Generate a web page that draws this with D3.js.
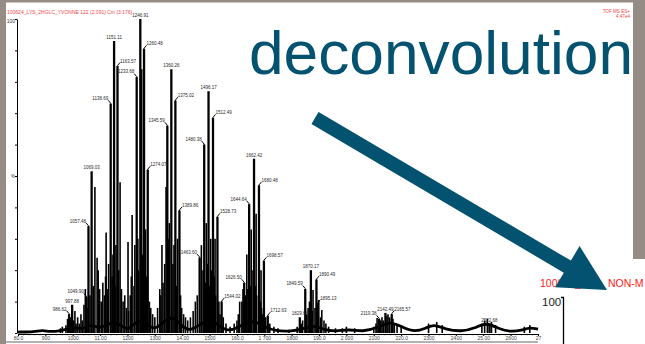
<!DOCTYPE html>
<html>
<head>
<meta charset="utf-8">
<script src="https://cdn.jsdelivr.net/npm/d3@7"></script>
<style>
  html, body { margin: 0; padding: 0; background: #fff; overflow: hidden; }
  svg { display: block; }
</style>
</head>
<body>
<svg id="chart" width="645" height="344"></svg>
<script>
// ---- axis ticks ----
const xTickValues = [800, 900, 1000, 1100, 1200, 1300, 1400, 1500, 1600, 1700, 1800, 1900, 2000, 2100, 2200, 2300, 2400, 2500, 2600, 2700];
const xTickLabels = ["80.0", "900", "1000", "11.00", "1200", "1300", "14.00", "1500", "160.0", "1 700", "1800", "190.0", "2 000", "2100", "220.0", "2300", "2400", "25.00", "2600", "27"];
const yTickValues = [0, 10, 20, 30, 40, 50, 60, 70, 80, 90, 100];

// ---- labelled peaks: m/z, relative intensity (%) and which side the label sits on ----
const peakMz = [986.62, 997.88, 1049.90, 1057.48, 1069.03, 1138.69, 1151.11, 1163.57, 1233.68, 1246.91, 1260.48, 1274.07,
  1345.59, 1360.26, 1375.02, 1389.86, 1463.60, 1480.38, 1496.17, 1512.49, 1528.73, 1544.02, 1626.50, 1644.64, 1662.42,
  1680.48, 1698.57, 1712.63, 1829.68, 1849.59, 1870.17, 1890.49, 1895.13, 2119.38, 2142.49, 2165.57, 2522.68];
const peakIntensity = [6, 9, 11.5, 34, 51.5, 73, 93, 85, 81.5, 100, 90.5, 52,
  66, 84, 74, 39, 24, 60, 77, 68.5, 37, 10, 16, 41, 55.5,
  47, 23, 5.5, 5, 14, 20, 17, 9.5, 4.5, 6.4, 6, 3];
const peakLabelSide = ["l", "c", "l", "l", "c", "l", "c", "r", "l", "c", "r", "r",
  "l", "c", "r", "r", "l", "l", "c", "r", "r", "r", "l", "l", "c",
  "r", "r", "r", "c", "l", "c", "r", "r", "l", "c", "r", "c"];

// ---- unlabelled peaks ----
const minorMz = [1081, 1089, 1122, 1173, 1202, 1217, 1252, 1266, 1326, 1341, 1353, 1383, 1470, 1488, 1504, 1520,
  1610, 1636, 1652, 1670, 1688, 1878, 1899, 1910,
  955, 962, 975, 981, 990, 993, 1003, 1008, 1012, 1018, 1024, 1030, 1035, 1041, 1046, 1052, 1063, 1075,
  1093, 1098, 1104, 1110, 1116, 1120, 1128, 1131, 1144, 1147, 1156, 1158, 1168, 1178, 1184, 1190, 1196,
  1204, 1210, 1214, 1224, 1227, 1238, 1241, 1256, 1270, 1280, 1285, 1292, 1300, 1310, 1318, 1322, 1330,
  1336, 1350, 1366, 1370, 1380, 1394, 1398, 1405, 1412, 1420, 1430, 1440, 1448, 1455, 1476, 1484, 1492,
  1500, 1506, 1517, 1522, 1534, 1538, 1550, 1560, 1575, 1590, 1600, 1605, 1618, 1622, 1632, 1640,
  1650, 1655, 1668, 1672, 1686, 1690, 1694, 1705, 1720, 1735, 1750, 1790, 1820, 1835, 1840, 1855, 1860,
  1865, 1875, 1885, 1905, 1918, 1925, 1935, 1960, 1985, 2000, 2030, 2100, 2108, 2112, 2125, 2130, 2135,
  2148, 2152, 2158, 2170, 2175, 2185, 2200, 2300, 2330, 2350, 2495, 2505, 2515, 2530, 2545, 2650, 2670];
const minorIntensity = [46.5, 24, 32, 48, 29, 37.6, 84, 33, 28, 46.5, 35, 30, 28, 35, 30, 30,
  10, 25, 33, 38, 20, 13.7, 10.5, 7.3,
  1.5, 2, 2.5, 4.5, 3, 5, 4, 7, 3, 5, 3, 6, 4, 9, 14, 8, 12, 15,
  20, 14, 10, 16, 12, 18, 14, 22, 18, 25, 15, 28, 20, 14, 10, 12, 8,
  7, 12, 18, 15, 28, 30, 20, 25, 18, 10, 8, 6, 5, 8, 14, 12, 16,
  22, 30, 22, 28, 15, 12, 8, 6, 5, 4, 5, 7, 10, 12, 20, 16, 22,
  15, 20, 18, 12, 10, 6, 5, 3, 2, 3, 4, 6, 10, 14, 12, 14,
  15, 20, 15, 12, 10, 8, 6, 5, 3, 2, 1.5, 1, 2, 3, 4, 6, 8,
  10, 7, 8, 5, 4, 3, 2, 1.5, 1.5, 2, 1.5, 2, 3, 4.8, 4, 5, 4,
  5.5, 6, 5, 4.5, 3, 2.5, 2, 3, 3.5, 2.5, 3, 4, 4.5, 3.5, 2.5, 2, 2.5];

// ---- baseline envelope under the peak clusters ----
const baseMz = [800, 860, 890, 915, 950, 980, 1010, 1035, 1065, 1095, 1125, 1155, 1195, 1210, 1246, 1293, 1320, 1362,
  1400, 1428, 1460, 1500, 1540, 1565, 1600, 1655, 1700, 1740, 1800, 1850, 1880, 1920, 1960, 2010, 2060, 2110,
  2160, 2210, 2250, 2290, 2320, 2360, 2420, 2470, 2510, 2560, 2600, 2640, 2670, 2700];
const baseIntensity = [0.3, 0.4, 0.9, 0.4, 0.6, 1.2, 1.8, 1.2, 2.8, 1.5, 2.5, 4.0, 1.0, 1.5, 5.0, 0.8, 2.5, 6.0,
  2.0, 0.6, 2.5, 4.5, 2.0, 0.6, 1.5, 4.5, 2.0, 0.6, 0.5, 1.5, 2.5, 1.0, 0.5, 1.2, 0.4, 1.5,
  4.0, 1.5, 0.4, 1.5, 2.8, 1.2, 0.4, 1.5, 3.5, 1.2, 0.4, 0.8, 1.8, 1.2];

const svg = d3.select("#chart");
const teal = "#03526f";
const frameGrey = "#958c86";
const headRed = "#f04848";
const font = "Liberation Sans, Arial, sans-serif";
const fmt = d3.format(".2f");

const x = d3.scaleLinear().domain([800, 2700]).range([18, 538]);
const y = d3.scaleLinear().domain([0, 100]).range([333, 19]);

svg.append("rect").attr("x", 0).attr("y", 0).attr("width", 645).attr("height", 344).attr("fill", "#fff");

// spectrum header
svg.append("text").attr("x", 7).attr("y", 14)
  .attr("font-family", font).attr("font-size", 5).attr("fill", headRed)
  .text("100624_LYS_2HGLC_YVONNE 122 (2.091) Cm (3:176)");
svg.append("text").attr("x", 630).attr("y", 12.8).attr("text-anchor", "end")
  .attr("font-family", font).attr("font-size", 4.6).attr("fill", headRed)
  .text("TOF MS ES+");
svg.append("text").attr("x", 630).attr("y", 18).attr("text-anchor", "end")
  .attr("font-family", font).attr("font-size", 4.6).attr("fill", headRed)
  .text("4.47e4");

// baseline envelope
const baseData = baseMz.map((m, i) => ({ m, v: baseIntensity[i] }));
svg.append("path").datum(baseData)
  .attr("d", d3.line().x(d => x(d.m)).y(d => y(d.v)).curve(d3.curveBasis))
  .attr("fill", "none").attr("stroke", "#000").attr("stroke-width", 2.8);

// unlabelled sticks
const minorData = minorMz.map((m, i) => ({ m, v: minorIntensity[i] }));
svg.append("g").selectAll("line").data(minorData).join("line")
  .attr("x1", d => x(d.m)).attr("x2", d => x(d.m))
  .attr("y1", y(0)).attr("y2", d => y(d.v))
  .attr("stroke", "#000").attr("stroke-width", 1.6);

// labelled sticks
const peakData = peakMz.map((m, i) => ({ m, v: peakIntensity[i], side: peakLabelSide[i] }));
svg.append("g").selectAll("line").data(peakData).join("line")
  .attr("x1", d => x(d.m)).attr("x2", d => x(d.m))
  .attr("y1", y(0)).attr("y2", d => y(d.v))
  .attr("stroke", "#000").attr("stroke-width", 2.3);

// peak labels with short leaders
const lab = svg.append("g");
peakData.forEach(d => {
  const px = x(d.m), py = y(d.v);
  if (d.side === "c") {
    lab.append("text").attr("x", px).attr("y", py - 2).attr("text-anchor", "middle")
      .attr("font-family", font).attr("font-size", 4.5).attr("fill", "#2a2a2a")
      .text(fmt(d.m));
  } else {
    const s = d.side === "r" ? 1 : -1;
    lab.append("path").attr("d", `M${px},${py + 1}L${px},${py - 0.5}L${px + s * 2.5},${py - 3.5}`)
      .attr("fill", "none").attr("stroke", "#000").attr("stroke-width", 1);
    lab.append("text").attr("x", px + s * 2.5).attr("y", py - 3.6)
      .attr("text-anchor", s > 0 ? "start" : "end")
      .attr("font-family", font).attr("font-size", 4.5).attr("fill", "#2a2a2a")
      .text(fmt(d.m));
  }
});

// x axis
const xAxis = svg.append("g").attr("transform", `translate(0,${334})`)
  .call(d3.axisBottom(x).tickValues(xTickValues).tickSize(2).tickSizeOuter(0)
    .tickFormat((v, i) => xTickLabels[i]));
xAxis.select(".domain").attr("stroke", "#000").attr("stroke-width", 1);
xAxis.selectAll(".tick line").attr("stroke", "#000");
xAxis.selectAll(".tick text").attr("font-family", font)
  .attr("font-size", 5).attr("fill", "#444").attr("y", 2.2).attr("dy", "0.71em");
svg.append("g").selectAll("line").data(d3.range(820, 2700, 20)).join("line")
  .attr("x1", d => x(d)).attr("x2", d => x(d)).attr("y1", 334).attr("y2", 335.3)
  .attr("stroke", "#000").attr("stroke-width", 0.6);

// y axis
const yAxis = svg.append("g").attr("transform", `translate(${17},0)`)
  .call(d3.axisLeft(y).tickValues(yTickValues).tickSize(2).tickSizeOuter(0).tickFormat(""));
yAxis.select(".domain").attr("stroke", "#000").attr("stroke-width", 1);
yAxis.selectAll(".tick line").attr("stroke", "#000");
svg.append("text").attr("x", 15).attr("y", y(100) + 3.5).attr("text-anchor", "end")
  .attr("font-family", font).attr("font-size", 5).attr("fill", "#333").text("100");
svg.append("text").attr("x", 13).attr("y", y(50) + 2).attr("text-anchor", "middle")
  .attr("font-family", font).attr("font-size", 4.5).attr("fill", "#333").text("%");

// lower edge of the spectrum panel
svg.append("line").attr("x1", 6).attr("x2", 538).attr("y1", 342).attr("y2", 342)
  .attr("stroke", "#999").attr("stroke-width", 1.4);

// second spectrum peeking in at the lower right
svg.append("text").attr("x", 540).attr("y", 287)
  .attr("font-family", font).attr("font-size", 10.5).attr("fill", "#ff2020")
  .text("100624_LYS");
svg.append("text").attr("x", 608).attr("y", 287)
  .attr("font-family", font).attr("font-size", 10.5).attr("fill", "#ff2020")
  .text("NON-M");
svg.append("text").attr("x", 542).attr("y", 306)
  .attr("font-family", font).attr("font-size", 11.5).attr("fill", "#222")
  .text("100");
svg.append("path").attr("d", "M561,297.5H563.5V344")
  .attr("fill", "none").attr("stroke", "#000").attr("stroke-width", 1.3);

// grey frame strips
svg.append("rect").attr("x", 0).attr("y", 0).attr("width", 6).attr("height", 344).attr("fill", frameGrey);
svg.append("rect").attr("x", 0).attr("y", 0).attr("width", 645).attr("height", 2.5).attr("fill", frameGrey);
svg.append("rect").attr("x", 633).attr("y", 0).attr("width", 12).attr("height", 259).attr("fill", frameGrey);

// title
svg.append("text").attr("x", 249).attr("y", 74)
  .attr("font-family", font).attr("font-size", 62).attr("fill", teal)
  .attr("textLength", 384).attr("lengthAdjust", "spacingAndGlyphs")
  .text("deconvolution");

// arrow pointing down to the second spectrum
const arrowFrom = [315, 118], arrowTo = [607, 290];
const shaftHalf = 7, headHalf = 24, headLen = 46;
const dx = arrowTo[0] - arrowFrom[0], dy = arrowTo[1] - arrowFrom[1];
const len = Math.hypot(dx, dy);
const ux = dx / len, uy = dy / len, nx = -uy, ny = ux;
const bx = arrowTo[0] - headLen * ux, by = arrowTo[1] - headLen * uy;
const pts = [
  [arrowFrom[0] + shaftHalf * nx, arrowFrom[1] + shaftHalf * ny],
  [bx + shaftHalf * nx, by + shaftHalf * ny],
  [bx + headHalf * nx, by + headHalf * ny],
  arrowTo,
  [bx - headHalf * nx, by - headHalf * ny],
  [bx - shaftHalf * nx, by - shaftHalf * ny],
  [arrowFrom[0] - shaftHalf * nx, arrowFrom[1] - shaftHalf * ny]
];
svg.append("polygon").attr("points", pts.map(p => p.join(",")).join(" ")).attr("fill", teal);
</script>
</body>
</html>
